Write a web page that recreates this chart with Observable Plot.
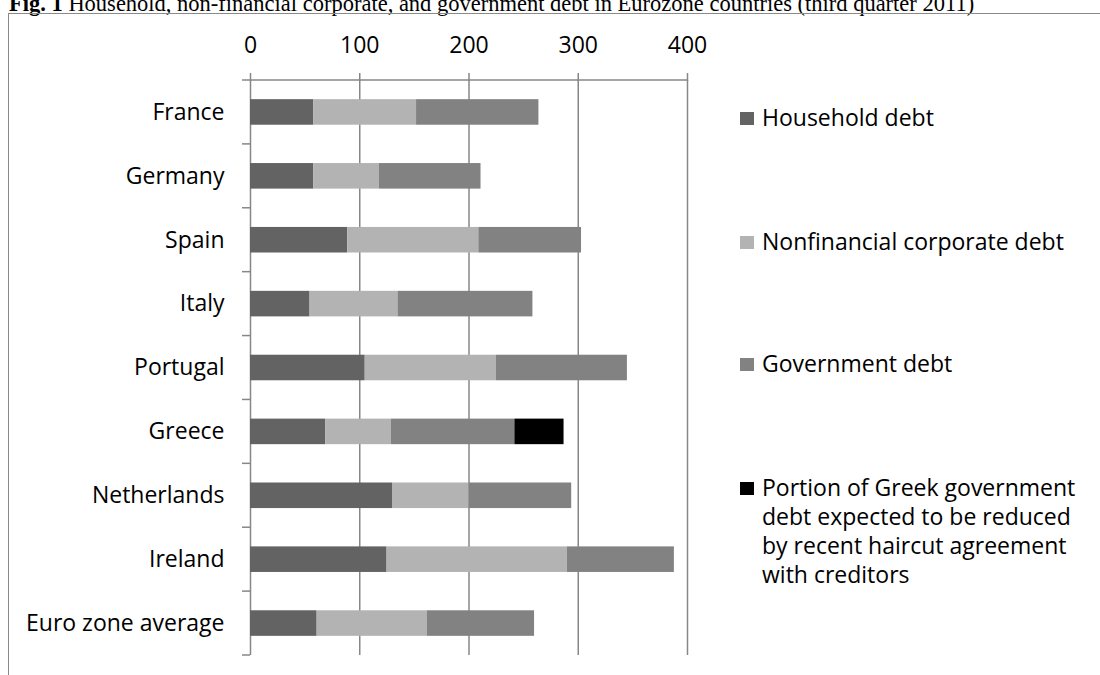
<!DOCTYPE html>
<html>
<head>
<meta charset="utf-8">
<script src="https://cdn.jsdelivr.net/npm/d3@7"></script>
<script src="https://cdn.jsdelivr.net/npm/@observablehq/plot@0.6"></script>
<style>
  html, body { margin: 0; padding: 0; background: #fff; }
  #page { position: relative; width: 1100px; height: 675px; overflow: hidden; background: #fff; }
  #title { position: absolute; left: 9px; top: -7px; font-family: "Liberation Serif", "Times New Roman", serif; font-size: 22.5px; line-height: 22.5px; color: #000; white-space: nowrap; }
  #frame { position: absolute; left: 8px; top: 13px; width: 1200px; height: 800px; border: 1px solid #8a8a8a; pointer-events: none; }
  #chart { position: absolute; left: 0; top: 0; }
  #legend { position: absolute; left: 740px; top: 0; font-family: "Open Sans", sans-serif; font-size: 23px; color: #000; }
  .item { position: absolute; left: 0; white-space: nowrap; }
  .sw { position: absolute; left: 0; width: 14px; height: 13px; }
  .lab { position: absolute; left: 22px; line-height: 29px; }
</style>
</head>
<body>
<div id="page">
  <div id="chart"></div>
  <div id="title"><b>Fig. 1</b> Household, non-financial corporate, and government debt in Eurozone countries (third quarter 2011)</div>
  <div id="frame"></div>
  <div id="legend"></div>
</div>
<script>
const countries = ["France", "Germany", "Spain", "Italy", "Portugal", "Greece", "Netherlands", "Ireland", "Euro zone average"];
const household = [58, 58, 89, 54.5, 105, 69, 130, 125, 61];
const corporate = [94, 60, 120, 80.5, 120, 60, 70, 165, 101];
const government = [112, 93, 94, 123.5, 120, 113, 94, 98, 98];
const haircut = [0, 0, 0, 0, 0, 45, 0, 0, 0];
const seriesNames = ["Household debt", "Nonfinancial corporate debt", "Government debt", "Portion of Greek government debt expected to be reduced by recent haircut agreement with creditors"];
const legendLines = [["Household debt"], ["Nonfinancial corporate debt"], ["Government debt"], ["Portion of Greek government", "debt expected to be reduced", "by recent haircut agreement", "with creditors"]];
const seriesColors = ["#636363", "#b3b3b3", "#828282", "#000000"];
const xTicks = [0, 100, 200, 300, 400];
const gridTicks = [100, 200, 300, 400];

const seriesValues = [household, corporate, government, haircut];
const data = [];
countries.forEach((c, i) => {
  seriesNames.forEach((s, j) => {
    if (seriesValues[j][i] > 0) data.push({country: c, series: s, value: seriesValues[j][i]});
  });
});

const ns = "http://www.w3.org/2000/svg";
function boundaryTicks(index, scales, values, dims) {
  const y = scales.y, x = scales.x;
  const n = countries.length;
  const h = dims.height - dims.marginTop - dims.marginBottom;
  const step = y.step ? y.step() : h / n;
  const off = (y.step && y.bandwidth) ? (y.step() - y.bandwidth()) / 2 : 0;
  const ys = countries.map(c => y(c) - off);
  ys.push(ys[n - 1] + step);
  const g = document.createElementNS(ns, "g");
  g.setAttribute("stroke", "#878787");
  g.setAttribute("stroke-width", "1.5");
  const x0 = x(xTicks[0]);
  const add = (x1, y1, x2, y2) => {
    const l = document.createElementNS(ns, "line");
    l.setAttribute("x1", x1); l.setAttribute("y1", y1);
    l.setAttribute("x2", x2); l.setAttribute("y2", y2);
    g.appendChild(l);
  };
  ys.forEach(v => add(x0 - 8, v, x0, v));
  add(x0, ys[0], x(xTicks[xTicks.length - 1]), ys[0]);
  return g;
}

const plot = Plot.plot({
  width: 1100,
  height: 675,
  marginLeft: 250,
  marginRight: 413,
  marginTop: 80,
  marginBottom: 20,
  style: {fontFamily: "Open Sans, sans-serif", fontSize: "23px", color: "#000", background: "transparent"},
  x: {domain: [0, 400], label: null},
  y: {domain: countries, paddingInner: 0.6, paddingOuter: 0.3, round: false, label: null},
  color: {domain: seriesNames, range: seriesColors},
  marks: [
    Plot.ruleX(gridTicks, {stroke: "#878787", strokeWidth: 1.5}),
    Plot.ruleX([0], {stroke: "#878787", strokeWidth: 1.5}),
    Plot.barX(data, Plot.stackX({x: "value", y: "country", fill: "series"})),
    Plot.axisX(xTicks, {anchor: "top", tickSize: 8, tickPadding: 20, stroke: "#878787", strokeWidth: 1.5, fontSize: 23, label: null}),
    Plot.axisY({tickSize: 0, tickPadding: 26, fontSize: 23, label: null}),
    boundaryTicks
  ]
});
document.getElementById("chart").appendChild(plot);

const legend = document.getElementById("legend");
const tops = [103, 227, 349, 473];
seriesNames.forEach((s, i) => {
  const item = document.createElement("div");
  item.className = "item";
  item.style.top = tops[i] + "px";
  const sw = document.createElement("div");
  sw.className = "sw";
  sw.style.background = seriesColors[i];
  sw.style.top = "9px";
  const lab = document.createElement("div");
  lab.className = "lab";
  lab.innerHTML = legendLines[i].join("<br>");
  item.appendChild(sw);
  item.appendChild(lab);
  legend.appendChild(item);
});
</script>
</body>
</html>
